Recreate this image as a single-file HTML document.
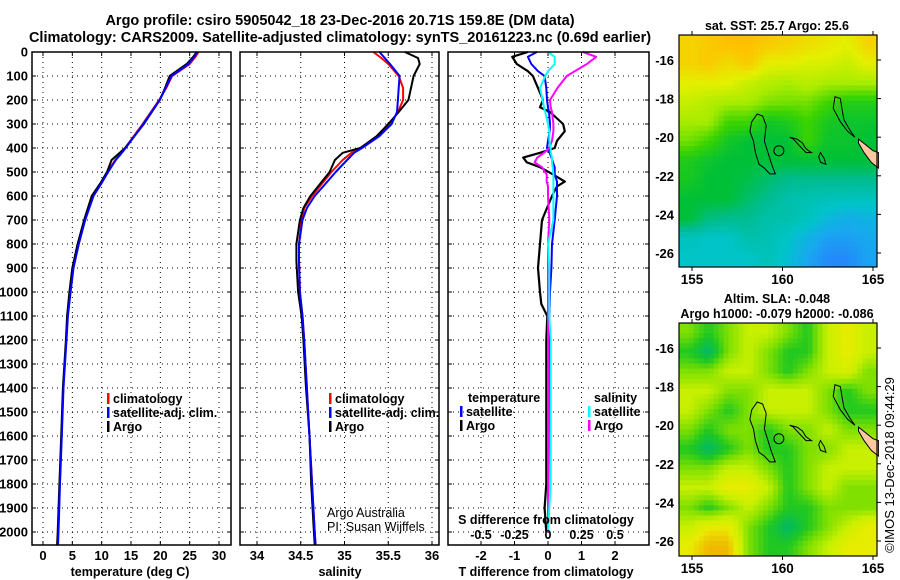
<!DOCTYPE html>
<html><head><meta charset="utf-8"><title>Argo profile</title>
<style>
html,body{margin:0;padding:0;background:#fff;}
svg{display:block;font-family:"Liberation Sans",Arial,sans-serif;}
.t{font-weight:bold;font-size:12.5px;fill:#000;}
.h{font-weight:bold;font-size:14.5px;fill:#000;}
.n{font-size:12.5px;fill:#000;}
</style></head>
<body>
<svg id="fig" width="900" height="580" viewBox="0 0 900 580" xmlns="http://www.w3.org/2000/svg">
<text class="h" x="340" y="25" text-anchor="middle">Argo profile: csiro 5905042_18 23-Dec-2016 20.71S 159.8E (DM data)</text>
<text class="h" x="340" y="42" text-anchor="middle">Climatology: CARS2009. Satellite-adjusted climatology: synTS_20161223.nc (0.69d earlier)</text>
<g id="g"></g>
</svg>
<script>
// ---------- data ----------
var depthTicks=[0,100,200,300,400,500,600,700,800,900,1000,1100,1200,1300,1400,1500,1600,1700,1800,1900,2000];
var tempTicks=[0,5,10,15,20,25,30];
var salTicks=[34,34.5,35,35.5,36];
var salTickLabels=["34","34.5","35","35.5","36"];
var tdTicks=[-2,-1,0,1,2];
var sdTicks=[-0.5,-0.25,0,0.25,0.5];
var sdTickLabels=["-0.5","-0.25","0","0.25","0.5"];

var tDepth=[0,20,50,100,150,200,300,400,430,450,500,550,600,700,800,900,1000,1100,1200,1400,1600,1800,2000,2054];
var tArgo=[26.2,25.6,24.5,21.6,20.8,19.9,17.2,14.0,12.6,11.7,10.9,9.7,8.3,7.0,5.9,5.0,4.5,4.1,3.9,3.4,3.1,2.8,2.5,2.4];
var tClim=[26.5,26.0,25.0,22.0,21.0,19.8,17.0,14.0,13.0,12.3,11.0,9.8,8.5,7.1,6.0,5.1,4.6,4.2,3.95,3.45,3.15,2.85,2.6,2.5];
var tSat=[26.3,25.8,24.8,21.9,20.9,19.9,17.1,14.1,13.1,12.4,11.1,9.9,8.6,7.2,6.1,5.2,4.7,4.25,4.0,3.5,3.2,2.9,2.65,2.55];

var sDepth=[0,25,50,100,150,200,250,300,350,400,420,450,500,550,600,650,700,800,870,1000,1100,1200,1400,1600,1800,2000,2054];
var sArgo=[35.69,35.84,35.86,35.79,35.76,35.73,35.62,35.50,35.37,35.18,34.98,34.89,34.83,34.72,34.61,34.53,34.49,34.45,34.45,34.47,34.51,34.53,34.56,34.60,34.62,34.65,34.66];
var sClim=[35.33,35.42,35.50,35.62,35.67,35.67,35.61,35.52,35.37,35.18,35.08,34.98,34.85,34.74,34.63,34.54,34.51,34.48,34.48,34.49,34.52,34.54,34.57,34.60,34.63,34.66,34.67];
var sSat=[35.40,35.46,35.52,35.63,35.62,35.61,35.60,35.54,35.40,35.20,35.11,35.03,34.90,34.78,34.66,34.57,34.52,34.48,34.48,34.49,34.52,34.54,34.57,34.60,34.63,34.66,34.67];

var dDepth=[0,20,50,80,100,150,200,230,250,300,330,370,400,420,440,460,480,510,540,560,600,700,800,900,1000,1050,1100,1200,1500,1800,1900,2000];
var dTArgo=[-0.6,-1.07,-0.93,-0.6,-0.45,-0.3,-0.15,-0.24,0.06,0.45,0.5,0.27,0.2,-0.24,-0.74,-0.63,-0.24,0.15,0.5,0.27,0.12,-0.18,-0.24,-0.3,-0.24,-0.2,-0.02,-0.05,-0.05,-0.05,-0.1,-0.05];
var dTSat=[-0.33,-0.6,-0.5,-0.3,-0.1,-0.05,-0.03,0.0,0.03,0.06,0.05,0.0,-0.03,0.05,0.1,0.15,0.2,0.2,0.27,0.27,0.27,0.2,0.12,0.1,0.06,0.05,0.04,0.03,0.02,0.01,0.0,0.0];
var dSArgo=[0.26,0.36,0.29,0.2,0.14,0.07,0.015,0.02,0.03,0.04,0.04,0.03,0.01,-0.03,-0.08,-0.1,-0.045,-0.01,-0.01,0.0,0.0,0.01,0.0,0.0,0.0,0.0,0.0,0.0,0.0,0.0,0.0,0.0];
var dSSat=[0.0,0.05,0.05,0.0,-0.02,-0.06,-0.04,-0.03,-0.02,0.0,0.01,0.01,0.02,0.02,0.03,0.03,0.035,0.04,0.04,0.04,0.04,0.04,0.0,0.01,0.01,0.01,0.01,0.02,0.02,0.02,0.01,0.0];

// SST grid (rows: lat from -14.7 south, cols lon 154.3..165.2), colour index 0..8
var sstGrid=[
[7.6,7.8,8,8,7.8,7.6,7.4,7.2,7,7.6],
[7.6,7.8,7.4,7.8,7,7,6.8,6.8,6.5,7],
[7,7,7,6.5,6.2,6,6.3,6,6,6],
[6.5,6.2,6,6,5.6,5.5,5.5,5,4.6,4.6],
[6,6,5,5,4.3,4.5,5,4.4,4.2,4.2],
[5.5,5,4.3,4,4,4,5,4.2,4.2,4],
[4.5,4.2,4,4,4,4,4,4,4,4],
[4.4,4,4,3.8,3.4,3,3,3,3,3],
[4,4,4,3.4,3,2.5,2.4,2.3,2.2,2.2],
[4,3.2,3,3,2.5,2.5,2.2,1.6,1.2,1.4],
[2.2,2,2,2.5,2.4,2,1.4,0.8,0.8,1],
[2,2,2,2,2.3,1.8,1,0.4,0.4,0.9]];
// SLA grid, colour index 0..5
var slaGrid=[
[2,1,2,3,3,2,1,3,4,3],
[1,0,2,3,2,1,1,3,4,3],
[2,2,3,3,2,1,2,3,3.5,2],
[3,3,2,2,3,3,3,2,1,2],
[3,2,1,2,3,3,3,2,1,1],
[2,1,2,2,1,2,2,3,2,2],
[1,0,1,2,1,1,2,2,3,3],
[2,2,3,3,2,1,2,3,3,3],
[3,3,4,4,3,1,2,3,2,2],
[2,1,2,3,2,1,1,2,2,2],
[3,4,4,2,1,0,1,2,3,4],
[4,5,5,2,1,1,2,3,4,4]];
var sstStops=["#2a78ff","#18a8f0","#00c4c8","#00bc90","#00c038","#3cd400","#a8ec00","#e4f000","#ffc000"];
var slaStops=["#00b868","#20c820","#80e000","#c8f000","#e8ec00","#f0b800"];

// coastlines (lon, lat)
var isl1=[[158.6,-18.8],[158.9,-18.9],[159.1,-19.4],[159.0,-20.2],[159.2,-20.8],[159.4,-21.4],[159.6,-21.9],[159.3,-21.9],[159.0,-21.6],[158.7,-21.4],[158.5,-20.8],[158.4,-20.2],[158.2,-19.7],[158.3,-19.2],[158.6,-18.8]];
var isl2=[[160.4,-20.0],[160.8,-20.1],[161.1,-20.3],[161.3,-20.6],[161.6,-20.8],[161.3,-20.8],[161.0,-20.5],[160.6,-20.1],[160.4,-20.0]];
var isl3=[[162.9,-17.9],[163.2,-18.0],[163.3,-18.6],[163.4,-19.1],[163.7,-19.6],[164.0,-20.0],[163.6,-19.7],[163.2,-19.2],[162.8,-18.5],[162.9,-17.9]];
var isl4=[[162.1,-20.8],[162.3,-21.1],[162.4,-21.4],[162.1,-21.3],[162.0,-21.0],[162.1,-20.8]];
var land=[[164.2,-20.1],[164.6,-20.4],[165.0,-20.7],[165.3,-20.8],[165.3,-21.6],[164.9,-21.3],[164.5,-20.8],[164.2,-20.3]];
var floatPos=[159.8,-20.7];

// ---------- helpers ----------
var NS="http://www.w3.org/2000/svg";
var G=document.getElementById('g');
function mk(tag,at,parent){var e=document.createElementNS(NS,tag);for(var k in at)e.setAttribute(k,at[k]);(parent||G).appendChild(e);return e;}
function txt(x,y,s,cls,anchor,parent){var e=mk('text',{x:x,y:y,'class':cls||'t','text-anchor':anchor||'start'},parent);e.textContent=s;return e;}
function yD(d){return 52+d*0.24;}
var Y0=52,Y1=545;

function panel(name){
  var g=mk('g',{});
  
  
  return g;
}
function frame(g,x0,x1){
  var r=mk('rect',{x:x0,y:Y0,width:x1-x0,height:Y1-Y0,fill:'none',stroke:'#000','stroke-width':1.5},g);
  
  
}
function hgrid(g,x0,x1){
  depthTicks.forEach(function(d){
    if(d===0)return;
    var l=mk('line',{x1:x0,x2:x1,y1:yD(d),y2:yD(d),stroke:'#000','stroke-width':1,'stroke-dasharray':'1,4'},g);
    
    
    mk('line',{x1:x0,x2:x0+4,y1:yD(d),y2:yD(d),stroke:'#000'},g);
    mk('line',{x1:x1-4,x2:x1,y1:yD(d),y2:yD(d),stroke:'#000'},g);
  });
}
function vgrid(g,xs){
  xs.forEach(function(x){
    var l=mk('line',{x1:x,x2:x,y1:Y0,y2:Y1,stroke:'#000','stroke-width':1,'stroke-dasharray':'1,4'},g);
    
    
    mk('line',{x1:x,x2:x,y1:Y0,y2:Y0+4,stroke:'#000'},g);
    mk('line',{x1:x,x2:x,y1:Y1-4,y2:Y1,stroke:'#000'},g);
  });
}
function line(g,xs,ds,fx,col,name,w){
  var p=xs.map(function(v,i){return fx(v).toFixed(1)+','+yD(ds[i]).toFixed(1);}).join(' ');
  var e=mk('polyline',{points:p,fill:'none',stroke:col,'stroke-width':w||2,'stroke-linejoin':'round'},g);
  
  
}
function legendItem(g,x,y,col,label){
  var b=mk('rect',{x:x,y:y-10,width:2.5,height:11,fill:col},g);
  
  
  var t=txt(x+6,y,label,'t','start',g);
  
  
}

// y-axis labels
var ya=mk('g',{});


depthTicks.forEach(function(d){txt(28,yD(d)+4.5,String(d),'t','end',ya).setAttribute('style','font-size:13px');});

// ---------- panel 1 temperature ----------
function xT(t){return 43+t*5.867;}
var p1=panel('temperature-panel');
vgrid(p1,tempTicks.map(xT));hgrid(p1,32,231);
line(p1,tClim,tDepth,xT,'#ff0000','temperature-climatology-line');
line(p1,tArgo,tDepth,xT,'#000000','temperature-argo-line');
line(p1,tSat,tDepth,xT,'#0000ff','temperature-satellite-line');
frame(p1,32,231);
tempTicks.forEach(function(t){txt(xT(t),560,String(t),'t','middle',p1).setAttribute('style','font-size:13px');});
var xl1=txt(130,576,'temperature (deg C)','t','middle',p1);


legendItem(p1,107,403,'#ff0000','climatology');
legendItem(p1,107,417,'#0000ff','satellite-adj. clim.');
legendItem(p1,107,431,'#000000','Argo');

// ---------- panel 2 salinity ----------
function xS(s){return 257+(s-34)*87.5;}
var p2=panel('salinity-panel');
vgrid(p2,salTicks.map(xS));hgrid(p2,240,439);
line(p2,sClim,sDepth,xS,'#ff0000','salinity-climatology-line');
line(p2,sArgo,sDepth,xS,'#000000','salinity-argo-line');
line(p2,sSat,sDepth,xS,'#0000ff','salinity-satellite-line');
frame(p2,240,439);
salTicks.forEach(function(s,i){txt(xS(s),560,salTickLabels[i],'t','middle',p2).setAttribute('style','font-size:13px');});
var xl2=txt(340,576,'salinity','t','middle',p2);


legendItem(p2,329,403,'#ff0000','climatology');
legendItem(p2,329,417,'#0000ff','satellite-adj. clim.');
legendItem(p2,329,431,'#000000','Argo');
var cr1=txt(327,517,'Argo Australia','n','start',p2);


var cr2=txt(327,531,'PI: Susan Wijffels','n','start',p2);



// ---------- panel 3 differences ----------
function xTd(v){return 548+v*33.5;}
function xSd(v){return 548+v*134;}
var p3=panel('difference-panel');
vgrid(p3,tdTicks.map(xTd));hgrid(p3,448,649);
line(p3,dTArgo,dDepth,xTd,'#000000','t-diff-argo-line',2.2);
line(p3,dTSat,dDepth,xTd,'#0000ff','t-diff-satellite-line');
line(p3,dSArgo,dDepth,xSd,'#ff00ff','s-diff-argo-line');
line(p3,dSSat,dDepth,xSd,'#00ffff','s-diff-satellite-line');
frame(p3,448,649);
tdTicks.forEach(function(v){txt(xTd(v),560,String(v),'t','middle',p3).setAttribute('style','font-size:13px');});
sdTicks.forEach(function(v,i){txt(xSd(v),539,sdTickLabels[i],'t','middle',p3);});
var sl=txt(546,524,'S difference from climatology','t','middle',p3);


var tl=txt(546,576,'T difference from climatology','t','middle',p3);


txt(468,402,'temperature','t','start',p3);
legendItem(p3,460,416,'#0000ff','satellite');
legendItem(p3,460,430,'#000000','Argo');
txt(594,402,'salinity','t','start',p3);
legendItem(p3,588,416,'#00ffff','satellite');
legendItem(p3,588,430,'#ff00ff','Argo');

// ---------- maps ----------
function hex(c){return [parseInt(c.substr(1,2),16),parseInt(c.substr(3,2),16),parseInt(c.substr(5,2),16)];}
function cmap(stops,v){
  v=Math.max(0,Math.min(stops.length-1,v));var i=Math.min(stops.length-2,Math.floor(v));var f=v-i;
  var a=hex(stops[i]),b=hex(stops[i+1]);
  return 'rgb('+a.map(function(x,k){return Math.round(x+(b[k]-x)*f);}).join(',')+')';
}
function sample(grid,r,c){
  var R=grid.length,C=grid[0].length;
  r=Math.max(0,Math.min(R-1,r));c=Math.max(0,Math.min(C-1,c));
  var r0=Math.floor(r),c0=Math.floor(c),r1=Math.min(R-1,r0+1),c1=Math.min(C-1,c0+1),fr=r-r0,fc=c-c0;
  return grid[r0][c0]*(1-fr)*(1-fc)+grid[r0][c1]*(1-fr)*fc+grid[r1][c0]*fr*(1-fc)+grid[r1][c1]*fr*fc;
}
function drawMap(name,top,bottom,grid,stops,labelLines){
  var X0=679,X1=877;
  var g=mk('g',{});
  
  
  var lat16=top+25;
  function mx(lon){return 692+(lon-155)*18.1;}
  function my(lat){return lat16+(-16-lat)*19.3;}
  var NX=40,NY=46,w=(X1-X0)/NX,h=(bottom-top)/NY;
  var R=grid.length,C=grid[0].length;
  for(var j=0;j<NY;j++)for(var i=0;i<NX;i++){
    var v=sample(grid,(j+0.5)/NY*R-0.5,(i+0.5)/NX*C-0.5);
    var c=mk('rect',{x:(X0+i*w).toFixed(2),y:(top+j*h).toFixed(2),width:(w+0.4).toFixed(2),height:(h+0.4).toFixed(2),fill:cmap(stops,v)},g);
    
    
  }
  function poly(pts,fill,nm){
    var e=mk('polygon',{points:pts.map(function(p){return mx(p[0]).toFixed(1)+','+my(p[1]).toFixed(1);}).join(' '),fill:fill,stroke:'#000','stroke-width':1},g);
    
    
  }
  poly(isl1,'none','coastline-chesterfield');
  poly(isl2,'none','coastline-bellona');
  poly(isl3,'none','coastline-reef-north');
  poly(isl4,'none','coastline-reef-small');
  poly(land,'#ffc8a0','land-new-caledonia');
  var fp=mk('circle',{cx:mx(floatPos[0]),cy:my(floatPos[1]),r:5,fill:'none',stroke:'#000','stroke-width':1},g);
  
  
  var fr=mk('rect',{x:X0,y:top,width:X1-X0,height:bottom-top,fill:'none',stroke:'#000','stroke-width':1.2},g);
  
  
  [155,160,165].forEach(function(l){
    mk('line',{x1:mx(l),x2:mx(l),y1:top,y2:top-4,stroke:'#000'},g);
    mk('line',{x1:mx(l),x2:mx(l),y1:bottom,y2:bottom+4,stroke:'#000'},g);
    txt(mx(l),bottom+17,String(l),'t','middle',g).setAttribute('style','font-size:13.5px');
  });
  [-16,-18,-20,-22,-24,-26].forEach(function(l){
    mk('line',{x1:X1,x2:X1+4,y1:my(l),y2:my(l),stroke:'#000'},g);
    txt(674,my(l)+5,String(l),'t','end',g).setAttribute('style','font-size:13px');
  });
  labelLines.forEach(function(s,k){
    var t=txt(777,top-(labelLines.length-k)*15+10,s,'t','middle',g);
    
    
  });
}
drawMap('sst-map',35,267,sstGrid,sstStops,['sat. SST: 25.7 Argo: 25.6']);
drawMap('sla-map',323,556,slaGrid,slaStops,['Altim. SLA: -0.048','Argo h1000: -0.079 h2000: -0.086']);

var cp=txt(0,0,'\u00a9IMOS 13-Dec-2018 09:44:29','n','middle');
cp.setAttribute('transform','translate(894,465) rotate(-90)');
cp.setAttribute('style','font-size:13px');


</script>
</body></html>
